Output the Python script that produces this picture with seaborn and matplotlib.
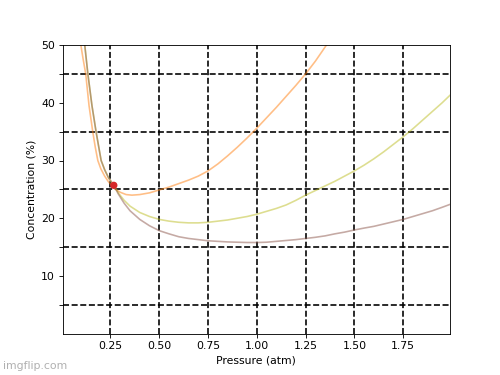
import matplotlib
matplotlib.use("Agg")
import matplotlib.pyplot as plt
import seaborn as sns
import pandas as pd

# Series
orange_x = [0.098, 0.11, 0.123, 0.14, 0.159, 0.172, 0.185, 0.20, 0.22, 0.24, 0.255, 0.28, 0.30, 0.33, 0.36,
            0.40, 0.45, 0.50, 0.55, 0.60, 0.65, 0.70, 0.75, 0.80, 0.85, 0.90, 0.95, 1.00, 1.05, 1.10,
            1.15, 1.20, 1.25, 1.30, 1.357]
orange_y = [50.0, 47.5, 45.0, 39.5, 35.0, 32.3, 30.0, 28.6, 27.3, 26.3, 25.7, 24.9, 24.5, 24.1, 24.0,
            24.1, 24.4, 24.9, 25.4, 26.0, 26.6, 27.3, 28.2, 29.4, 30.8, 32.3, 33.9, 35.6, 37.4, 39.2,
            41.1, 43.0, 45.0, 47.2, 50.0]

olive_x = [0.118, 0.126, 0.134, 0.155, 0.176, 0.19, 0.202, 0.22, 0.24, 0.267, 0.29, 0.32, 0.35, 0.40,
           0.45, 0.50, 0.55, 0.60, 0.65, 0.70, 0.75, 0.80, 0.85, 0.90, 0.95, 1.00, 1.05, 1.10, 1.15,
           1.20, 1.25, 1.30, 1.35, 1.40, 1.45, 1.50, 1.55, 1.60, 1.65, 1.70, 1.75, 1.80, 1.85, 1.90,
           1.95, 1.99]
olive_y = [50.0, 47.5, 45.0, 39.5, 35.0, 32.3, 30.0, 28.4, 27.0, 25.7, 24.4, 23.1, 22.1, 21.0,
           20.3, 19.8, 19.5, 19.3, 19.2, 19.2, 19.3, 19.5, 19.7, 20.0, 20.3, 20.7, 21.2, 21.7, 22.3,
           23.1, 24.0, 24.8, 25.6, 26.4, 27.3, 28.2, 29.2, 30.3, 31.5, 32.8, 34.1, 35.5, 37.0, 38.5,
           40.0, 41.3]

brown_x = [0.118, 0.126, 0.134, 0.155, 0.176, 0.19, 0.202, 0.22, 0.24, 0.267, 0.29, 0.32, 0.35, 0.40,
           0.45, 0.50, 0.55, 0.60, 0.65, 0.70, 0.75, 0.80, 0.85, 0.90, 0.95, 1.00, 1.05, 1.10, 1.15,
           1.20, 1.25, 1.30, 1.35, 1.40, 1.45, 1.50, 1.55, 1.60, 1.65, 1.70, 1.75, 1.80, 1.85, 1.90,
           1.95, 1.99]
brown_y = [50.0, 47.5, 45.0, 39.5, 35.0, 32.3, 30.0, 28.4, 27.0, 25.7, 24.2, 22.6, 21.3, 19.8,
           18.7, 17.85, 17.3, 16.8, 16.5, 16.3, 16.1, 16.0, 15.9, 15.85, 15.8, 15.8, 15.85, 16.0, 16.15,
           16.3, 16.5, 16.7, 16.95, 17.3, 17.6, 17.97, 18.3, 18.6, 19.0, 19.4, 19.8, 20.3, 20.8, 21.3,
           21.9, 22.4]

point_x = [0.267]
point_y = [25.7]

x_grid = [0.25, 0.50, 0.75, 1.00, 1.25, 1.50, 1.75]
y_grid = [5, 15, 25, 35, 45]
y_ticks = [5, 10, 15, 20, 25, 30, 35, 40, 45, 50]
y_ticklabels = ["", "10", "", "20", "", "30", "", "40", "", "50"]

fig, ax = plt.subplots(figsize=(6.4, 4.8), dpi=78.125)

for xs, ys, col in [(orange_x, orange_y, "tab:orange"),
                    (olive_x, olive_y, "tab:olive"),
                    (brown_x, brown_y, "tab:brown")]:
    df = pd.DataFrame({"x": xs, "y": ys})
    sns.lineplot(data=df, x="x", y="y", ax=ax, color=col, alpha=0.5,
                 linewidth=1.5, estimator=None, sort=False, legend=False)

sns.scatterplot(x=point_x, y=point_y, ax=ax, color="tab:red", s=45,
                edgecolor="none", zorder=5, legend=False)

for gx in x_grid:
    ax.axvline(gx, color="black", linestyle="--", linewidth=1.5, zorder=1)
for gy in y_grid:
    ax.axhline(gy, color="black", linestyle="--", linewidth=1.5, zorder=1)

ax.set_xlim(0.004, 1.99)
ax.set_ylim(0, 50)
ax.set_xticks(x_grid)
ax.set_xticklabels([f"{v:.2f}" for v in x_grid])
ax.set_yticks(y_ticks)
ax.set_yticklabels(y_ticklabels)
ax.set_xlabel("Pressure (atm)")
ax.set_ylabel("Concentration (%)")

fig.text(0.006, 0.015, "imgflip.com", color="#b0b0b0", fontsize=10)

fig.savefig("out.png", dpi=78.125)
